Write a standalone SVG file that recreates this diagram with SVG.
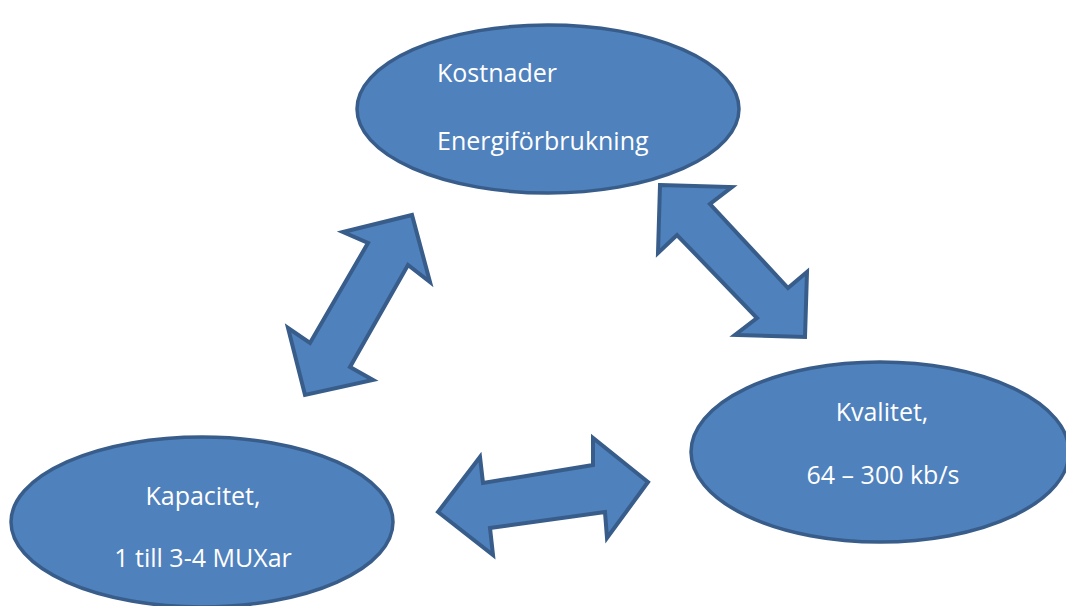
<svg xmlns="http://www.w3.org/2000/svg" width="1066" height="606" viewBox="0 0 1066 606">
<style>
.node{fill:#4F81BD;stroke:#385D8A;stroke-width:3.5}
.arrow{fill:#4F81BD;stroke:#385D8A;stroke-width:4;stroke-linejoin:miter}
.lbl{font-family:"Open Sans","Liberation Sans",sans-serif;font-size:25px;fill:#FFFFFF}
.c{text-anchor:middle}
</style>
<rect width="1066" height="606" fill="#FFFFFF"/>
<g id="connectors">
<polygon class="arrow" points="343,232 412,215 430,282 408,265 350,367 373,380 305,395 288,328 310,343 368,243"/>
<polygon class="arrow" points="660,185 732,187 710,204 788,288 807,272 805,337 735,335 757,318 677,235 658,253"/>
<polygon class="arrow" points="438,512 480,457 483,483 593,465 593,438 648,482 607,538 605,512 490,528 493,555"/>
</g>
<g id="kostnader">
<ellipse class="node" cx="548" cy="109" rx="191" ry="84"/>
<text class="lbl" x="437" y="82">Kostnader</text>
<text class="lbl" x="437" y="150">Energiförbrukning</text>
</g>
<g id="kvalitet">
<ellipse class="node" cx="880" cy="452" rx="189" ry="90"/>
<text class="lbl c" x="882" y="421">Kvalitet,</text>
<text class="lbl c" x="883" y="484">64 – 300 kb/s</text>
</g>
<g id="kapacitet">
<ellipse class="node" cx="202" cy="522" rx="191" ry="85"/>
<text class="lbl c" x="203" y="505">Kapacitet,</text>
<text class="lbl c" x="203" y="567">1 till 3-4 MUXar</text>
</g>
</svg>
